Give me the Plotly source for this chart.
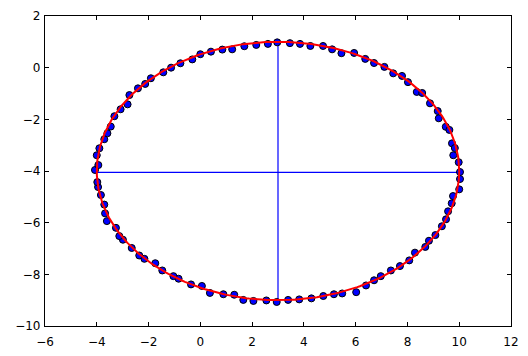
import numpy as np
import plotly.graph_objects as go

# Scatter points
x_pts = [-4.07, -3.94, -4.00, -3.90, -3.71, -3.59, -3.46, -3.32, -3.08, -2.81, -2.74, -2.41,
         -2.13, -1.91, -1.43, -1.13, -0.77, -0.31, 0.00, 0.41, 0.85, 1.23, 1.70, 2.16,
         2.61, 2.97, 3.46, 3.85, 4.25, 4.74, 5.09, 5.45, 5.94, 6.37, 6.71, 7.11, 7.45,
         7.79, 8.02, 8.36, 8.57, 8.87, 9.17, 9.21, 9.48, 9.62, 9.72, 9.83, 9.77, 9.98,
         10.03, 10.03, 10.00, 9.76, 9.71, 9.57, 9.49, 9.33, 9.08, 8.83, 8.69, 8.29, 8.07,
         7.71, 7.36, 6.97, 6.71, 6.40, 6.02, 5.48, 5.16, 4.75, 4.29, 3.82, 3.39, 2.95,
         2.55, 2.05, 1.66, 1.31, 0.89, 0.37, 0.06, -0.36, -0.84, -1.04, -1.47, -1.74,
         -2.16, -2.36, -2.65, -2.99, -3.13, -3.26, -3.61, -3.68, -3.71, -3.84, -3.95, -3.98]
y_pts = [-3.96, -3.77, -3.39, -3.12, -2.77, -2.54, -2.28, -1.88, -1.61, -1.42, -1.06, -0.80,
         -0.63, -0.41, -0.18, 0.00, 0.17, 0.32, 0.52, 0.62, 0.70, 0.71, 0.83, 0.88,
         0.92, 0.98, 0.95, 0.92, 0.84, 0.84, 0.71, 0.56, 0.57, 0.34, 0.18, 0.03, -0.22,
         -0.32, -0.56, -0.94, -0.98, -1.38, -1.68, -1.96, -2.29, -2.41, -2.93, -3.11, -3.39, -3.66,
         -4.04, -4.31, -4.71, -4.97, -5.25, -5.56, -5.87, -6.14, -6.48, -6.70, -6.94, -7.16, -7.46,
         -7.68, -7.85, -8.07, -8.23, -8.43, -8.69, -8.74, -8.77, -8.84, -8.93, -8.97, -8.99, -9.07,
         -9.01, -9.03, -8.99, -8.79, -8.77, -8.72, -8.45, -8.39, -8.17, -8.07, -7.85, -7.57,
         -7.40, -7.27, -6.98, -6.66, -6.52, -6.20, -5.94, -5.64, -5.30, -4.93, -4.62, -4.43]

# Fitted ellipse parameters
center = [3.0, -4.0]
semi_axes = [7.0, 5.0]

# Axis lines through the center
h_line_x = [-4.0, 10.0]
h_line_y = [-4.05, -4.05]
v_line_x = [3.0, 3.0]
v_line_y = [-9.0, 1.0]

x_ticks = [-6, -4, -2, 0, 2, 4, 6, 8, 10, 12]
y_ticks = [-10, -8, -6, -4, -2, 0, 2]

t = np.linspace(0, 2 * np.pi, 400)
ex = center[0] + semi_axes[0] * np.cos(t)
ey = center[1] + semi_axes[1] * np.sin(t)

fig = go.Figure()
fig.add_trace(go.Scatter(x=h_line_x, y=h_line_y, mode="lines",
                         line=dict(color="#0000ff", width=1.2), showlegend=False))
fig.add_trace(go.Scatter(x=v_line_x, y=v_line_y, mode="lines",
                         line=dict(color="#0000ff", width=1.2), showlegend=False))
fig.add_trace(go.Scatter(x=x_pts, y=y_pts, mode="markers",
                         marker=dict(color="#0000ff", size=7,
                                     line=dict(color="black", width=1)),
                         showlegend=False))
fig.add_trace(go.Scatter(x=ex, y=ey, mode="lines",
                         line=dict(color="#ff0000", width=2), showlegend=False))

axis_common = dict(showgrid=False, zeroline=False, showline=True, linecolor="black",
                   linewidth=1.2, mirror="ticks", ticks="inside", ticklen=4,
                   tickcolor="black", tickwidth=1, automargin=False,
                   tickfont=dict(family="DejaVu Sans", size=12, color="black"))

fig.update_xaxes(range=[-6, 12], tickvals=x_ticks, ticklabelstandoff=4, **axis_common)
fig.update_yaxes(range=[-10, 2], tickvals=y_ticks, ticklabelstandoff=1, **axis_common)

fig.update_layout(width=528, height=356,
                  margin=dict(l=45, r=17, t=16, b=30),
                  paper_bgcolor="white", plot_bgcolor="white")

fig.write_html("out.html")
